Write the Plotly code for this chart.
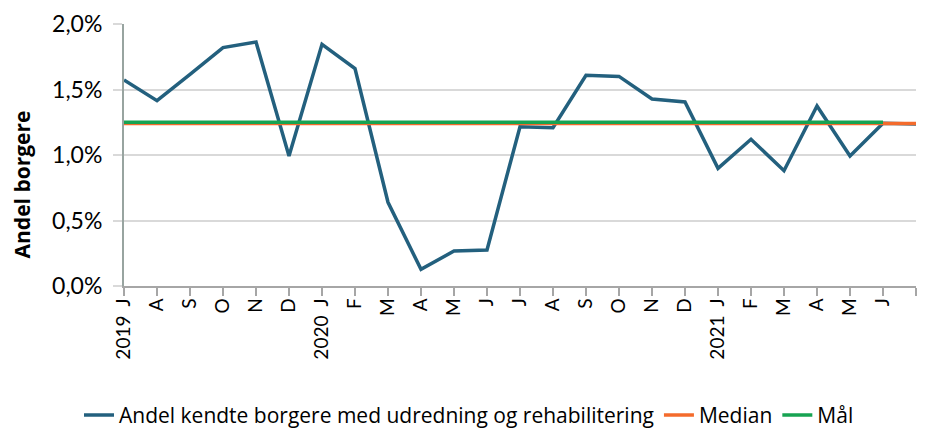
import plotly.graph_objects as go

tick_labels = ["2019\u00a0\u00a0J", "A", "S", "O", "N", "D", "2020\u00a0\u00a0J", "F", "M", "A", "M", "J",
               "J", "A", "S", "O", "N", "D", "2021\u00a0\u00a0J", "F", "M", "A", "M", "J", ""]
andel = [1.573, 1.415, 1.615, 1.82, 1.862, 0.992, 1.845, 1.66, 0.639, 0.127, 0.267, 0.275,
         1.216, 1.208, 1.608, 1.600, 1.427, 1.405, 0.898, 1.12, 0.88, 1.374, 0.992, 1.242, 1.236]
median = [1.24] * 25
maal = [1.25] * 24

x_all = list(range(len(tick_labels)))

FONT = "Lato"
# The page body has an 8px offset, so the figure is sized to fit in the visible window.
fig = go.Figure()
fig.add_trace(go.Scatter(x=x_all, y=andel, mode="lines",
                         name="Andel kendte borgere med udredning og rehabilitering",
                         line=dict(color="#23607e", width=3.5)))
fig.add_trace(go.Scatter(x=x_all[:len(median)], y=median, mode="lines", name="Median",
                         line=dict(color="#f46b2c", width=3.5)))
fig.add_trace(go.Scatter(x=x_all[:len(maal)], y=maal, mode="lines", name="Mål",
                         line=dict(color="#17a352", width=3.5)))

fig.update_layout(
    width=922, height=422,
    margin=dict(l=116, r=14, t=16, b=144, autoexpand=False),
    paper_bgcolor="white", plot_bgcolor="white",
    font=dict(family=FONT, color="#000000"),
    showlegend=True,
    legend=dict(orientation="h", xref="container", yref="container",
                x=0.5, xanchor="center", y=0.035, yanchor="middle",
                font=dict(size=21, family="Open Sans", color="#000000"),
                tracegroupgap=0),
    annotations=[dict(text="<b>Andel borgere</b>", xref="paper", yref="paper",
                      x=-0.129, y=0.387, xanchor="center", yanchor="middle",
                      textangle=-90, showarrow=False,
                      font=dict(size=21, family="Open Sans", color="#000000"))],
)
fig.update_xaxes(
    range=[0, 24], tickmode="array", tickvals=x_all, ticktext=tick_labels,
    tickangle=-90, ticks="outside", ticklen=8, tickcolor="#a6a6a6", tickwidth=1.5,
    showline=True, linecolor="#a6a6a6", linewidth=1.5,
    showgrid=False, zeroline=False, automargin=False, ticklabelstandoff=-5,
    tickfont=dict(size=19, family=FONT, color="#000000"),
)
fig.update_yaxes(
    range=[0, 2.0], tickvals=[0, 0.5, 1.0, 1.5, 2.0],
    ticktext=["0,0%", "0,5%", "1,0%", "1,5%", "2,0%"],
    ticks="outside", ticklen=9, tickcolor="#d9d9d9", tickwidth=1.5,
    showline=True, linecolor="#98a4a0", linewidth=2,
    showgrid=True, gridcolor="#d9d9d9", gridwidth=1.5, zeroline=False, automargin=False,
    ticklabelstandoff=6,
    tickfont=dict(size=23, family=FONT, color="#000000"),
)
fig.write_html("out.html")
